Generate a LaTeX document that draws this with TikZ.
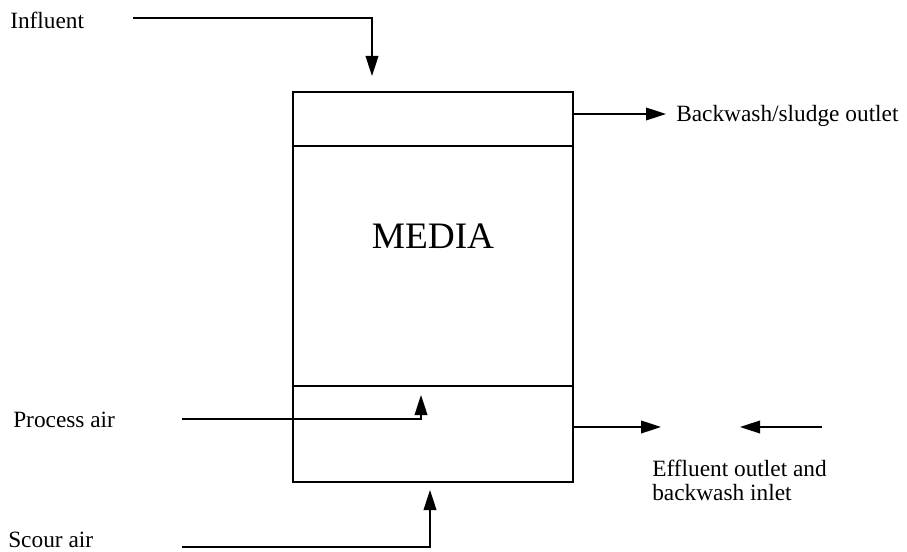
\documentclass[tikz,border=0pt]{standalone}
\usepackage{fontspec}
\setmainfont{Liberation Serif}
\usepackage{tikz}
\usetikzlibrary{arrows.meta}

\begin{document}
\begin{tikzpicture}[x=0.75pt, y=-0.75pt,
    fluxo/.style={line width=1.2pt, -{Triangle[length=15pt, width=9.5pt]}},
    rotulo/.style={anchor=west, inner sep=0pt, font=\fontsize{17.5}{18}\selectfont}]
  \useasboundingbox (0,0) rectangle (907,552);
  % tanque
  \node[draw, line width=1.4pt, inner sep=0pt, minimum width=210pt,
    minimum height=292.5pt] (tank) at (433,287) {};
  \draw[line width=1.4pt] (tank.west |- 0,146) -- (tank.east |- 0,146);
  \draw[line width=1.2pt] (tank.west |- 0,386) -- (tank.east |- 0,386);
  \node[font=\fontsize{28}{30}\selectfont] (media) at (433,236) {MEDIA};
  % r\'otulos
  \node[rotulo] (influent) at (10,20) {Influent};
  \node[rotulo] (backwash) at (676,116) {Backwash/sludge outlet};
  \node[rotulo] (process) at (13,420) {Process air};
  \node[rotulo] (scour) at (8,540) {Scour air};
  \node[rotulo, align=left] (effluent) at (652,480)
    {Effluent outlet and\\backwash inlet};
  % pontos das linhas
  \coordinate (inA) at (133,18);
  \coordinate (inB) at (372,76);
  \coordinate (bwB) at (666,114);
  \coordinate (paA) at (182,419);
  \coordinate (paB) at (421,395);
  \coordinate (saA) at (182,547);
  \coordinate (saB) at (430,490);
  \coordinate (efB) at (661,427);
  \coordinate (biA) at (822,427);
  \coordinate (biB) at (740,427);
  % setas
  \draw[fluxo] (inA) -| (inB);
  \draw[fluxo] (tank.east |- bwB) -- (bwB);
  \draw[fluxo] (paA) -| (paB);
  \draw[fluxo] (saA) -| (saB);
  \draw[fluxo] (tank.east |- efB) -- (efB);
  \draw[fluxo] (biA) -- (biB);
\end{tikzpicture}
\end{document}
